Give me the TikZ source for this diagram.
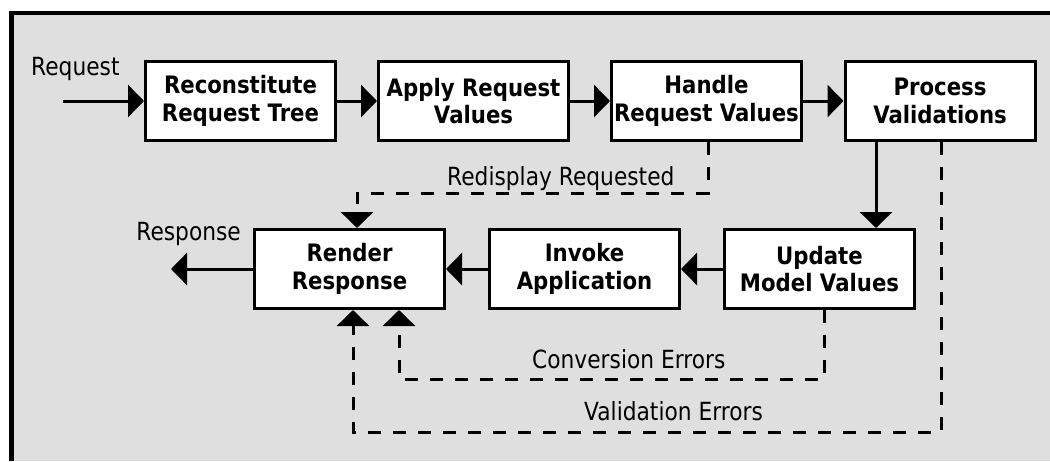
\documentclass[tikz,border=0pt]{standalone}
\usepackage{fontspec}
\setmainfont{DejaVu Sans}[FakeStretch=0.87]
\newfontfamily\boxfont{DejaVu Sans}[FakeStretch=0.885]
\usetikzlibrary{arrows.meta}
\definecolor{bgcol}{RGB}{223,223,223}
\begin{document}
\begin{tikzpicture}[x=1pt,y=-1pt,
  box/.style={draw=black, fill=white, line width=3pt, minimum width=190pt, minimum height=79pt,
    inner sep=0pt, align=center, font=\boxfont\bfseries\fontsize{24}{27.5}\selectfont},
  lbl/.style={font=\fontsize{25}{30}\selectfont, inner sep=0pt},
  conn/.style={line width=3pt, -{Triangle[length=16pt,width=32pt]}},
  dconn/.style={conn, dash pattern=on 13pt off 12pt}]
\useasboundingbox (0,0) rectangle (1050,461);
\fill[bgcol] (11,13) rectangle (1050,461);
\draw[line width=4.5pt] (11.5,461) -- (11.5,13) -- (1050,13);

\node[box] (n1) at (240.5,101) {Reconstitute\\Request Tree};
\node[box] (n2) at (473.5,101) {Apply Request\\Values};
\node[box] (n3) at (706.5,101) {Handle\\Request Values};
\node[box] (n4) at (940,101) {Process\\Validations};
\node[box] (r1) at (349.5,269) {Render\\Response};
\node[box] (r2) at (584.5,269) {Invoke\\Application};
\node[box] (r3) at (819.5,269) {Update\\Model Values};

\node[lbl, anchor=base west] (lreq) at (31,75) {Request};
\node[lbl, anchor=base east] (lresp) at (241,240) {Response};
\node[lbl, anchor=base west] (lrd) at (447,185) {Redisplay Requested};
\node[lbl, anchor=base west] (lce) at (532,368) {Conversion Errors};
\node[lbl, anchor=base west] (lve) at (584,420) {Validation Errors};

\coordinate (rin) at (63,101);
\coordinate (rout) at (171,269);
\draw[conn] (rin) -- (n1);
\draw[conn] (n1) -- (n2);
\draw[conn] (n2) -- (n3);
\draw[conn] (n3) -- (n4);
\draw[conn] (r3) -- (r2);
\draw[conn] (r2) -- (r1);
\draw[conn] (r1) -- (rout);

\coordinate (x876) at (876,0);
\draw[conn] (n4.south -| x876) -- (r3.north -| x876);

\coordinate (vx) at (941,0);
\coordinate (vy) at (0,432);
\coordinate (rv) at (353,0);
\draw[dconn] (n4.south -| vx) |- (rv |- vy) -- (r1.south -| rv);

\coordinate (cx) at (824,0);
\coordinate (cy) at (0,379);
\coordinate (rc) at (399,0);
\draw[dconn] (r3.south -| cx) |- (rc |- cy) -- (r1.south -| rc);

\coordinate (dx) at (708,0);
\coordinate (dy) at (0,193);
\coordinate (rd) at (357,0);
\draw[dconn] (n3.south -| dx) |- (rd |- dy) -- (r1.north -| rd);
\end{tikzpicture}
\end{document}
